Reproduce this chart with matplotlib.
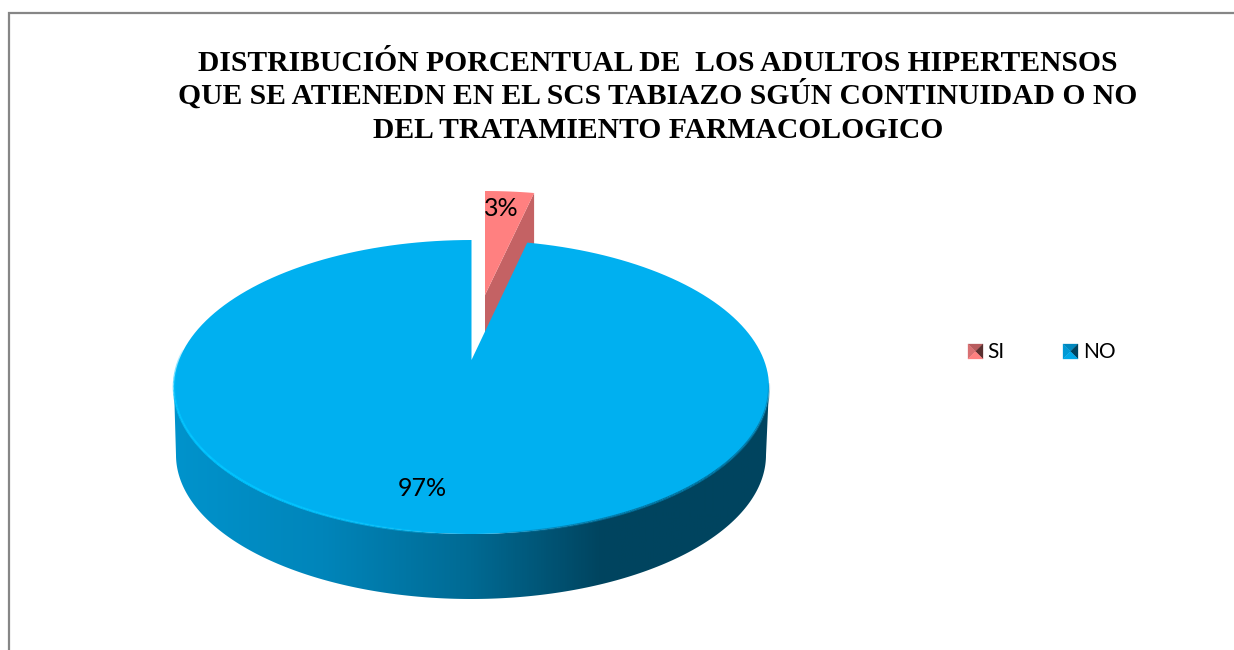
import numpy as np
import matplotlib
matplotlib.use("Agg")
import matplotlib.pyplot as plt
from matplotlib.collections import LineCollection
from matplotlib.colors import LinearSegmentedColormap, to_rgba
from matplotlib.patches import Polygon

categories = ["SI", "NO"]
values = [3, 97]
title_lines = [
    "DISTRIBUCIÓN PORCENTUAL DE  LOS ADULTOS HIPERTENSOS",
    "QUE SE ATIENEDN EN EL SCS TABIAZO SGÚN CONTINUIDAD O NO",
    "DEL TRATAMIENTO FARMACOLOGICO",
]


def arc(cx, cy, rx, ry, start, end, n=200):
    # angles in degrees, clockwise from twelve o'clock
    t = np.radians(np.linspace(start, end, n))
    return np.column_stack([cx + rx * np.sin(t), cy - ry * np.cos(t)])


def soft_line(ax, pts, color, lw, zorder):
    # line whose alpha fades out towards both ends
    segs = np.stack([pts[:-1], pts[1:]], axis=1)
    a = np.sin(np.linspace(0, np.pi, len(segs))) ** 0.5
    rgba = [to_rgba(color, x) for x in a]
    ax.add_collection(LineCollection(segs, colors=rgba, linewidths=lw, zorder=zorder))


fig = plt.figure(figsize=(12.34, 6.5), dpi=100)
ax = fig.add_axes([0, 0, 1, 1])
ax.set_xlim(0, 1234)
ax.set_ylim(650, 0)
ax.set_axis_off()

# chart border
ax.plot([9, 9, 1234], [650, 13, 13], color="#868686", lw=1.6, solid_joinstyle="miter")

split = 360 * values[0] / sum(values)

# SI slice, pulled out of the pie
si_apex = np.array([485, 295])
si_arc = arc(485, 304, 262, 113, 0, split)
si_drop = np.array([0, 62])
ax.add_patch(Polygon(np.vstack([si_apex + si_drop, si_arc[-1] + si_drop, si_arc[-1], si_apex]),
                     fc="#C46264", ec="none", zorder=2))
ax.add_patch(Polygon(np.vstack([si_apex, si_arc]), fc="#FF8080", ec="none", zorder=3))

# NO slice: wall first, then top face
top = (471.5, 387, 297.5, 147)
low = (471, 455, 295, 144)
wall_pts = np.vstack([arc(*top, 90, 270), arc(*low, 270, 90)])
wall = Polygon(wall_pts, fc="none", ec="none", transform=ax.transData)
ax.add_patch(wall)
wall_cmap = LinearSegmentedColormap.from_list(
    "wall",
    [(0.0, "#0093CC"), (0.25, "#0085BA"), (0.5, "#006A93"),
     (0.72, "#00445F"), (1.0, "#00455F")],
)
im = ax.imshow(np.linspace(0, 1, 600).reshape(1, -1), extent=[174, 769, 650, 380],
               cmap=wall_cmap, aspect="auto", zorder=4)
im.set_clip_path(wall)
ax.set_xlim(0, 1234)
ax.set_ylim(650, 0)

apex = [471.5, 360]
ax.add_patch(Polygon(np.vstack([apex, arc(*top, split, 360)]), fc="#00B0F0", ec="none", zorder=5))

# bevel along the front of the top face
soft_line(ax, arc(*top, 185, 285)[::-1], "#00C4FF", 1.8, 6)
soft_line(ax, arc(*top, 88, 175), "#00729E", 1.6, 6)

# labels
ax.text(501, 208, "%d%%" % values[0], fontsize=18, family="Lato", ha="center", va="center", color="black", zorder=7)
ax.text(422, 488, "%d%%" % values[1], fontsize=18, family="Lato", ha="center", va="center", color="black", zorder=7)

# title
for line, y in zip(title_lines, [71, 104, 137.5]):
    ax.text(658, y, line, fontsize=21.3, family="Liberation Serif", weight="bold",
            ha="center", va="baseline", color="black")

# legend with bevelled keys
key_colors = [
    ["#B85C5E", "#D87072", "#5A3030", "#FF8080"],
    ["#0088BE", "#0099D5", "#00435F", "#00A8E8"],
]
for name, x, faces, tx in zip(categories, [968, 1063], key_colors, [987, 1083]):
    y = 344
    s = 15
    c = (x + s / 2, y + s / 2)
    corners = [(x, y), (x + s, y), (x + s, y + s), (x, y + s)]
    tri = [(corners[0], corners[1]), (corners[3], corners[0]),
           (corners[1], corners[2]), (corners[2], corners[3])]
    for (a, b), col in zip(tri, faces):
        ax.add_patch(Polygon([a, b, c], fc=col, ec=col, lw=0.2))
    ax.text(tx, 351.5, name, fontsize=15, family="Lato", ha="left", va="center", color="black")

fig.savefig("out.png", dpi=100)
